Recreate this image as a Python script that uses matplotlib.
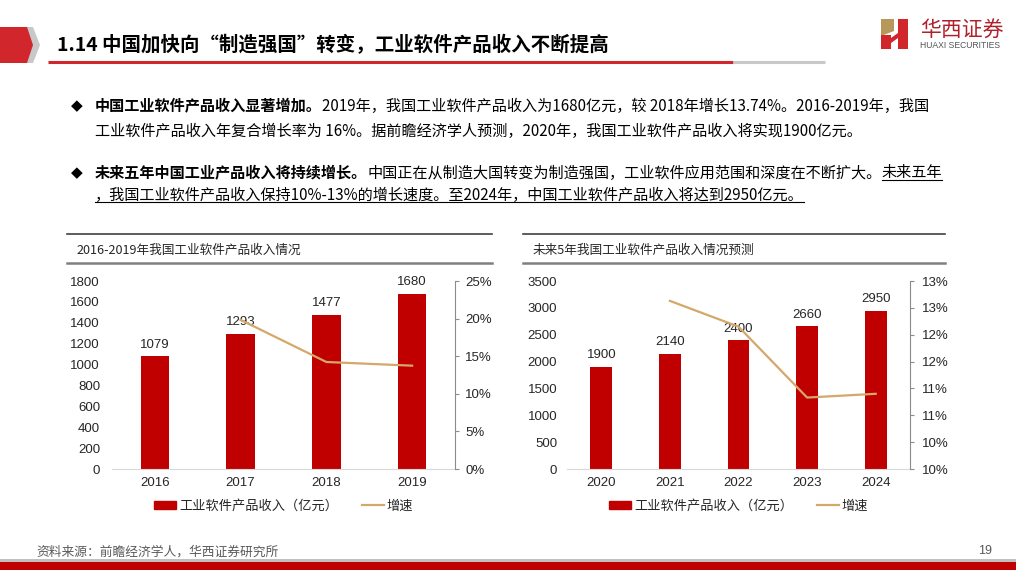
import math
import matplotlib
matplotlib.use('Agg')
import matplotlib.pyplot as plt
from matplotlib.patches import Polygon, Rectangle, Patch
from matplotlib.lines import Line2D
from matplotlib.ticker import FuncFormatter

plt.rcParams['font.family'] = ['Liberation Sans', 'Noto Sans CJK SC', 'DejaVu Sans']
CJK = ['Noto Sans CJK SC', 'DejaVu Sans']

# ---- datos ----
years_hist = ['2016', '2017', '2018', '2019']
revenue_hist = [1079, 1293, 1477, 1680]
growth_hist = [19.83, 14.23, 13.74]          # 2017-2019, %

years_fc = ['2020', '2021', '2022', '2023', '2024']
revenue_fc = [1900, 2140, 2400, 2660, 2950]
growth_fc = [12.63, 12.15, 10.83, 10.90]     # 2021-2024, %

left_ticks = list(range(0, 1801, 200))
right_ticks_hist = [0, 5, 10, 15, 20, 25]
left_ticks_fc = list(range(0, 3501, 500))
right_ticks_fc = [9.5, 10, 10.5, 11, 11.5, 12, 12.5, 13]

BAR = '#C00000'
LINE = '#D4A76A'
RED = '#D0262C'

fig = plt.figure(figsize=(10.16, 5.70), dpi=100)
ov = fig.add_axes([0, 0, 1, 1])
ov.set_xlim(0, 1016)
ov.set_ylim(570, 0)
ov.axis('off')
renderer = fig.canvas.get_renderer()

# ---- cabecera ----
ov.add_patch(Polygon([(0, 27), (33, 27), (40, 45), (33, 63), (0, 63)], closed=True, color='#C8C8C8', lw=0))
ov.add_patch(Polygon([(0, 27), (27, 27), (33, 45), (27, 63), (0, 63)], closed=True, color=RED, lw=0))
ov.text(57, 45, '1.14 中国加快向“制造强国”转变，工业软件产品收入不断提高', fontsize=14,
        fontweight='bold', va='center', ha='left', family=CJK, color='black')
ov.plot([48, 733], [62, 62], color=RED, lw=2.2, solid_capstyle='butt')
ov.plot([733, 825], [62, 62], color='#C8C8C8', lw=2.2, solid_capstyle='butt')

# logo
ov.add_patch(Polygon([(881, 19), (894, 19), (894, 31), (881, 36)], closed=True, color='#B8975A', lw=0))
ov.add_patch(Rectangle((881, 35), 10, 14, color=RED, lw=0))
ov.add_patch(Rectangle((898, 19), 10, 30, color=RED, lw=0))
ov.add_patch(Polygon([(891, 38), (898, 33), (898, 38), (891, 43)], closed=True, color=RED, lw=0))
ov.text(920, 30, '华西证券', fontsize=15, va='center', ha='left', family=CJK, color='#B0202A')
ov.text(920, 45, 'HUAXI SECURITIES', fontsize=6.2, va='center', ha='left', color='#555555')


# ---- texto ----
def poner_runs(x, y, runs, size=10.9):
    for s, bold, subrayado in runs:
        t = ov.text(x, y, s, fontsize=size, fontweight='bold' if bold else 'normal',
                    va='center', ha='left', family=CJK, color='black')
        w = t.get_window_extent(renderer).width
        if subrayado:
            ov.plot([x, x + w], [y + 7, y + 7], color='black', lw=0.8)
        x += w


for yb in (106, 173):
    ov.text(71, yb, '◆', fontsize=11, va='center', ha='left', family=['DejaVu Sans'], color='black')

poner_runs(95, 106, [('中国工业软件产品收入显著增加。', True, False),
                     ('2019年，我国工业软件产品收入为1680亿元，较 2018年增长13.74%。2016-2019年，我国', False, False)])
poner_runs(95, 131, [('工业软件产品收入年复合增长率为 16%。据前瞻经济学人预测，2020年，我国工业软件产品收入将实现1900亿元。', False, False)])
poner_runs(95, 173, [('未来五年中国工业产品收入将持续增长。', True, False),
                     ('中国正在从制造大国转变为制造强国，工业软件应用范围和深度在不断扩大。', False, False),
                     ('未来五年', False, True)])
poner_runs(95, 195, [('，我国工业软件产品收入保持10%-13%的增长速度。至2024年，中国工业软件产品收入将达到2950亿元。', False, True)])

# ---- marcos de las gráficas ----
for x0, x1, titulo in [(67, 492, '2016-2019年我国工业软件产品收入情况'),
                       (523, 945, '未来5年我国工业软件产品收入情况预测')]:
    ov.plot([x0, x1], [234, 234], color='#404040', lw=1.2)
    ov.plot([x0, x1], [263, 263], color='#808080', lw=1.8)
    ov.text(x0 + 10, 250, titulo, fontsize=9.1, va='center', ha='left', family=CJK, color='#262626')

# ---- pie ----
ov.text(36, 552, '资料来源：前瞻经济学人，华西证券研究所', fontsize=9.2, va='center', ha='left',
        family=CJK, color='#595959')
ov.text(978, 551, '19', fontsize=9, va='center', ha='left', color='#595959')
ov.add_patch(Rectangle((0, 559), 1016, 3, color='#C0C0C0', lw=0))
ov.add_patch(Rectangle((0, 562), 1016, 8, color=BAR, lw=0))


def grafica(rect, cats, vals, growth, yticks, y2ticks, y2fmt, bar_w, pad_left, pad_right):
    ax = fig.add_axes(rect)
    x = list(range(len(cats)))
    bars = ax.bar(x, vals, width=bar_w, color=BAR, zorder=2)
    for b, v in zip(bars, vals):
        ax.annotate(str(v), (b.get_x() + b.get_width() / 2, v), xytext=(0, 4),
                    textcoords='offset points', ha='center', va='bottom', fontsize=9.5, color='#262626')
    ax.set_xlim(-0.5, len(cats) - 0.5)
    ax.set_ylim(yticks[0], yticks[-1])
    ax.set_yticks(yticks)
    ax.set_xticks(x)
    ax.set_xticklabels(cats)
    for s in ('top', 'right', 'left'):
        ax.spines[s].set_visible(False)
    ax.spines['bottom'].set_color('#D9D9D9')
    ax.tick_params(axis='y', length=0, pad=pad_left, labelsize=9.5, labelcolor='#262626')
    ax.tick_params(axis='x', length=0, pad=6, labelsize=9.5, labelcolor='#262626')

    ax2 = ax.twinx()
    ax2.plot(x[1:], growth, color=LINE, lw=1.6, zorder=3)
    ax2.set_ylim(y2ticks[0], y2ticks[-1])
    ax2.set_yticks(y2ticks)
    ax2.yaxis.set_major_formatter(FuncFormatter(y2fmt))
    for s in ('top', 'left', 'bottom'):
        ax2.spines[s].set_visible(False)
    ax2.spines['right'].set_color('#8C8C8C')
    ax2.tick_params(axis='y', length=3, color='#8C8C8C', pad=pad_right, labelsize=9.5, labelcolor='#262626')

    handles = [Patch(color=BAR, label='工业软件产品收入（亿元）'),
               Line2D([0], [0], color=LINE, lw=1.6, label='增速')]
    ax.legend(handles=handles, loc='center', bbox_to_anchor=(0.5, -0.197), ncol=2, frameon=False,
              fontsize=9.5, handlelength=1.7, handleheight=0.55, handletextpad=0.2, columnspacing=1.8,
              labelcolor='#262626')
    return ax


def fmt_hist(v, pos):
    return f'{int(round(v))}%'


def fmt_fc(v, pos):
    return f'{int(math.floor(v + 0.5 + 1e-9))}%'


grafica([112 / 1016, 1 - 469 / 570, 343 / 1016, 188 / 570], years_hist, revenue_hist, growth_hist,
        left_ticks, right_ticks_hist, fmt_hist, 0.33, 8.6, 4.3)
grafica([567 / 1016, 1 - 469 / 570, 343 / 1016, 188 / 570], years_fc, revenue_fc, growth_fc,
        left_ticks_fc, right_ticks_fc, fmt_fc, 0.32, 7, 5.5)

fig.savefig('out.png', dpi=100)
